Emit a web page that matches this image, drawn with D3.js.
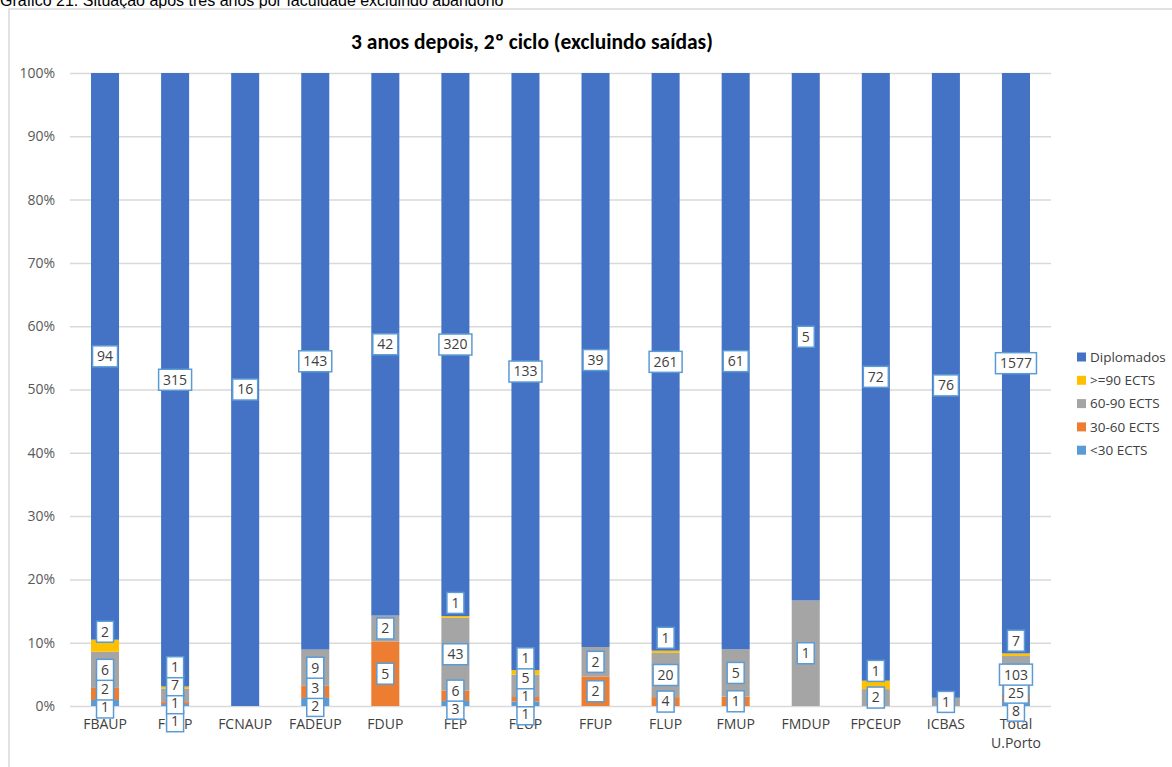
<!DOCTYPE html>
<html>
<head>
<meta charset="utf-8">
<script src="https://cdn.jsdelivr.net/npm/d3@7"></script>
<style>
  body { margin: 0; background: #fff; }
  svg { display: block; }
  .calib { font-family: "Open Sans", Carlito, Calibri, sans-serif; }
  .title { font-family: Carlito, Calibri, Lato, sans-serif; }
</style>
</head>
<body>
<svg id="chart"></svg>
<script>
// chart values
const categories = ["FBAUP", "FCUP", "FCNAUP", "FADEUP", "FDUP", "FEP", "FEUP",
  "FFUP", "FLUP", "FMUP", "FMDUP", "FPCEUP", "ICBAS", "Total U.Porto"];
const lt30 = [1, 1, 0, 2, 0, 3, 1, 0, 0, 0, 0, 0, 0, 8];
const ects30_60 = [2, 1, 0, 3, 5, 6, 1, 2, 4, 1, 0, 0, 0, 25];
const ects60_90 = [6, 7, 0, 9, 2, 43, 5, 2, 20, 5, 1, 2, 1, 103];
const ge90 = [2, 1, 0, 0, 0, 1, 1, 0, 1, 0, 0, 1, 0, 7];
const diplomados = [94, 315, 16, 143, 42, 320, 133, 39, 261, 61, 5, 72, 76, 1577];
const yTicks = [0, 0.1, 0.2, 0.3, 0.4, 0.5, 0.6, 0.7, 0.8, 0.9, 1];

// series in stacking order (bottom -> top)
const series = [
  { key: "<30 ECTS", values: lt30, color: "#5B9BD5" },
  { key: "30-60 ECTS", values: ects30_60, color: "#ED7D31" },
  { key: "60-90 ECTS", values: ects60_90, color: "#A5A5A5" },
  { key: ">=90 ECTS", values: ge90, color: "#FFC000" },
  { key: "Diplomados", values: diplomados, color: "#4472C4" },
];

const width = 1172, height = 767;
const margin = { top: 73, right: 121, bottom: 61, left: 70 };

const svg = d3.select("#chart").attr("width", width).attr("height", height);

// caption above the chart box (cut by the top edge)
svg.append("text")
  .attr("x", 0).attr("y", 6)
  .attr("font-family", "'Liberation Sans', Arial, sans-serif")
  .attr("font-size", 16)
  .attr("fill", "#000")
  .text("Gráfico 21: Situação após três anos por faculdade excluindo abandono");

// chart border
svg.append("rect")
  .attr("x", 9).attr("y", 9)
  .attr("width", width + 10).attr("height", height + 10)
  .attr("fill", "none")
  .attr("stroke", "#d9d9d9")
  .attr("stroke-width", 1.5);

svg.append("text")
  .attr("class", "title")
  .attr("x", 532).attr("y", 49)
  .attr("text-anchor", "middle")
  .attr("font-size", 21.5)
  .attr("font-weight", "bold")
  .attr("fill", "#000")
  .text("3 anos depois, 2º ciclo (excluindo saídas)");

// build rows for d3.stack
const rows = categories.map((c, i) => {
  const r = { cat: c };
  series.forEach(s => { r[s.key] = s.values[i]; });
  return r;
});

const stack = d3.stack()
  .keys(series.map(s => s.key))
  .offset(d3.stackOffsetExpand);
const stacked = stack(rows);

const x = d3.scaleBand()
  .domain(categories)
  .range([margin.left, width - margin.right])
  .paddingInner(0.6)
  .paddingOuter(0.3);

const y = d3.scaleLinear()
  .domain([0, 1])
  .range([height - margin.bottom, margin.top]);

// gridlines + y labels
const yAxis = svg.append("g")
  .attr("transform", `translate(${margin.left},0)`)
  .call(d3.axisLeft(y).tickValues(yTicks).tickFormat(d3.format(".0%"))
    .tickSize(-(width - margin.right - margin.left)).tickPadding(15));
yAxis.select(".domain").remove();
yAxis.selectAll("line").attr("stroke", "#d9d9d9").attr("stroke-width", 1.5);
yAxis.selectAll("text")
  .attr("class", "calib")
  .attr("font-size", 14)
  .attr("fill", "#595959");

// bars
const layers = svg.append("g").selectAll("g")
  .data(stacked)
  .join("g")
  .attr("fill", (d, i) => series[i].color);

layers.selectAll("rect")
  .data(d => d)
  .join("rect")
  .attr("x", d => x(d.data.cat))
  .attr("width", x.bandwidth())
  .attr("y", d => y(d[1]))
  .attr("height", d => y(d[0]) - y(d[1]));

// x labels
const xAxis = svg.append("g")
  .attr("transform", `translate(0,${height - margin.bottom})`)
  .call(d3.axisBottom(x).tickSize(0).tickPadding(0));
xAxis.select(".domain").remove();
xAxis.selectAll("text").remove();
xAxis.selectAll(".tick").each(function(d) {
  const t = d3.select(this).append("text")
    .attr("class", "calib")
    .attr("font-size", 14)
    .attr("fill", "#404040")
    .attr("text-anchor", "middle");
  const parts = d === "Total U.Porto" ? ["Total", "U.Porto"] : [d];
  parts.forEach((p, k) => {
    t.append("tspan").attr("x", 0).attr("y", 23 + k * 19).text(p);
  });
});

// data labels, nudged apart so they don't pile up
const labelGap = 18;
const labelG = svg.append("g");
categories.forEach((c, ci) => {
  const labs = [];
  stacked.forEach((layer, si) => {
    const v = series[si].values[ci];
    if (!v) return;
    const d = layer[ci];
    let cy = y((d[0] + d[1]) / 2);
    if (series[si].key === ">=90 ECTS") cy -= 14;
    labs.push({ v, y: cy });
  });
  for (let it = 0; it < 60; it++) {
    labs.sort((a, b) => b.y - a.y);
    for (let k = 0; k < labs.length - 1; k++) {
      const gap = labs[k].y - labs[k + 1].y;
      if (gap < labelGap) {
        const push = (labelGap - gap) / 2;
        labs[k].y += push;
        labs[k + 1].y -= push;
      }
    }
  }
  const cx = x(c) + x.bandwidth() / 2;
  labs.forEach(l => {
    const g = labelG.append("g").attr("transform", `translate(${cx},${l.y})`);
    const txt = String(l.v);
    const w = txt.length * 8 + 9;
    g.append("rect")
      .attr("x", -w / 2).attr("y", -10.5)
      .attr("width", w).attr("height", 21)
      .attr("fill", "#fff")
      .attr("stroke", "#5B9BD5")
      .attr("stroke-width", 1.5);
    g.append("text")
      .attr("class", "calib")
      .attr("text-anchor", "middle")
      .attr("dy", "0.35em")
      .attr("font-size", 14)
      .attr("fill", "#404040")
      .text(txt);
  });
});

// legend (top series first)
const legend = svg.append("g").attr("transform", "translate(1077,357)");
series.slice().reverse().forEach((s, i) => {
  const row = legend.append("g").attr("transform", `translate(0,${i * 23.3})`);
  row.append("rect")
    .attr("x", 0).attr("y", -4.5)
    .attr("width", 9).attr("height", 9)
    .attr("fill", s.color);
  row.append("text")
    .attr("class", "calib")
    .attr("x", 13).attr("dy", "0.35em")
    .attr("font-size", 13.5)
    .attr("fill", "#404040")
    .text(s.key);
});
</script>
</body>
</html>
